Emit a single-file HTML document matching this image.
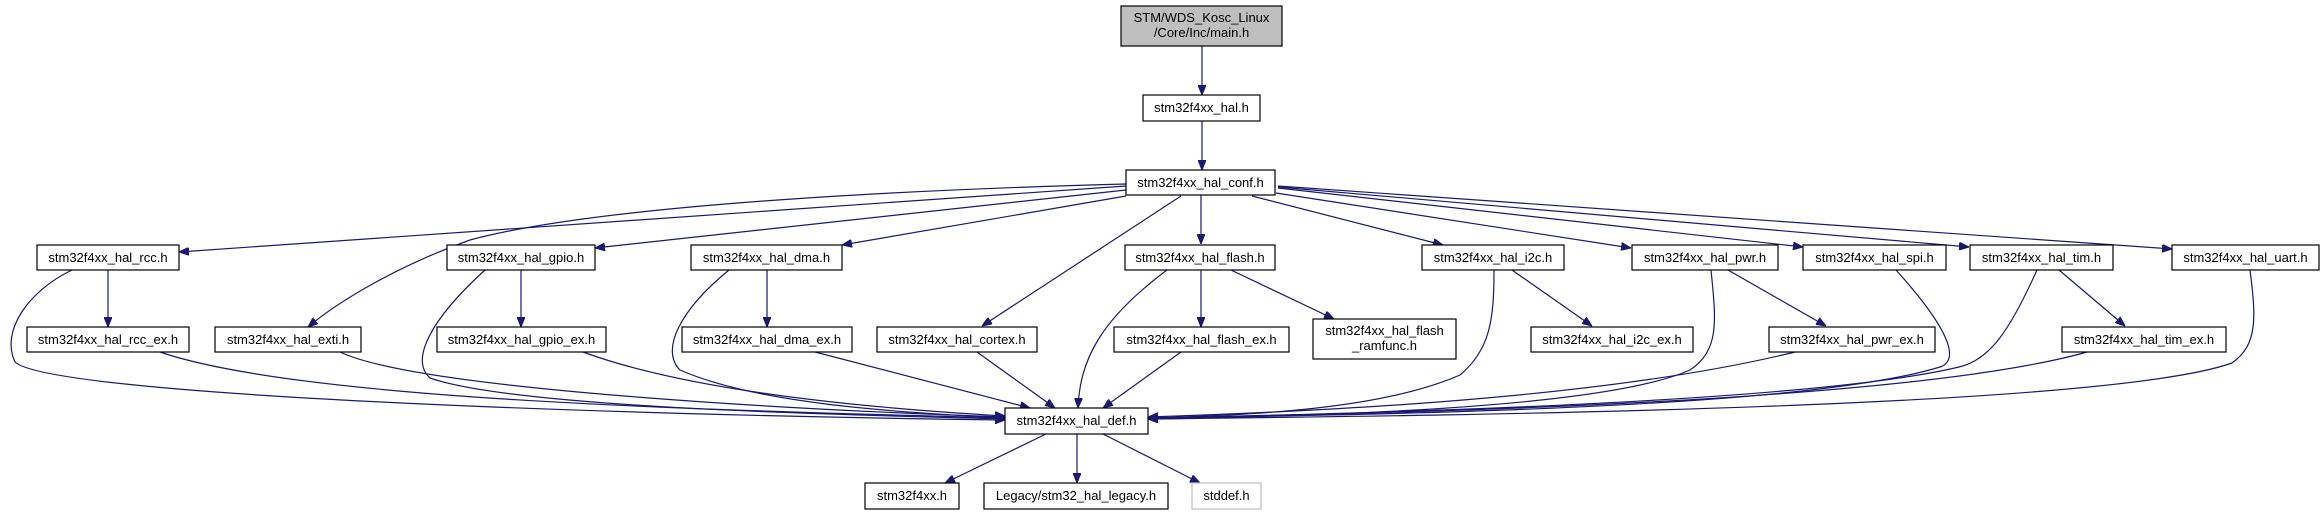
<!DOCTYPE html>
<html><head><meta charset="utf-8"><style>
html,body{margin:0;padding:0;background:#fff;}
svg{display:block;}
text{font-family:"Liberation Sans",sans-serif;font-size:13px;fill:#000;}
.n{fill:#fff;stroke:#000;stroke-width:1.2;}
.e{fill:none;stroke:#191970;stroke-width:1.2;}
</style></head><body>
<svg width="2324" height="515" viewBox="0 0 2324 515" xmlns="http://www.w3.org/2000/svg">
<defs>
<marker id="a" markerWidth="10" markerHeight="8" refX="10" refY="4" orient="auto" markerUnits="userSpaceOnUse">
<path d="M0,0 L10,4 L0,8 z" fill="#191970" stroke="#191970"/>
</marker>
</defs>
<g marker-end="url(#a)">
<path class="e" d="M1202,46 L1202,95"/>
<path class="e" d="M1202,121 L1202,170"/>
<path class="e" d="M1126,186 L179,252"/>
<path class="e" d="M1126,184 C900,190 600,205 470,240 C400,265 340,300 308,327"/>
<path class="e" d="M1126,190 L595,248"/>
<path class="e" d="M1126,196 L842,245"/>
<path class="e" d="M1181,196 L982,326"/>
<path class="e" d="M1201,195 L1201,244"/>
<path class="e" d="M1252,196 L1443,245"/>
<path class="e" d="M1276,193 L1631,248"/>
<path class="e" d="M1278,188 L1803,247"/>
<path class="e" d="M1278,187 L1969,247"/>
<path class="e" d="M1278,186 L2172,249"/>
<path class="e" d="M108,270 L108,327"/>
<path class="e" d="M521,270 L521,327"/>
<path class="e" d="M767,270 L767,327"/>
<path class="e" d="M1201,270 L1201,327"/>
<path class="e" d="M1231,270 L1334,319"/>
<path class="e" d="M1512,270 L1592,326"/>
<path class="e" d="M1728,270 L1826,326"/>
<path class="e" d="M2059,270 L2125,326"/>
<path class="e" d="M72,270 C30,290 0,330 15,362 C50,395 600,415 1005,420"/>
<path class="e" d="M160,352 C300,400 700,410 1005,418"/>
<path class="e" d="M340,352 C420,390 800,410 1005,417"/>
<path class="e" d="M485,270 C430,320 410,360 430,378 C520,410 900,416 1005,419"/>
<path class="e" d="M583,352 C700,395 900,410 1005,416"/>
<path class="e" d="M729,270 C680,310 660,350 680,370 C760,405 900,412 1005,418"/>
<path class="e" d="M815,352 L1030,408"/>
<path class="e" d="M977,352 L1055,408"/>
<path class="e" d="M1167,270 C1100,320 1080,360 1078,408"/>
<path class="e" d="M1181,352 L1103,408"/>
<path class="e" d="M1494,270 C1494,320 1490,350 1460,375 C1380,410 1250,415 1148,418"/>
<path class="e" d="M1711,270 C1716,320 1720,350 1690,370 C1600,410 1300,416 1148,419"/>
<path class="e" d="M1795,352 C1600,400 1300,412 1148,417"/>
<path class="e" d="M1896,270 C1950,330 1960,360 1940,367 C1800,410 1350,415 1148,418"/>
<path class="e" d="M2037,270 C2010,330 1990,360 1959,367 C1800,405 1300,415 1148,418"/>
<path class="e" d="M2087,352 C1900,405 1350,414 1148,418"/>
<path class="e" d="M2250,270 C2256,317 2258,345 2232,363 C2100,410 1400,416 1148,419"/>
<path class="e" d="M1046,434 L945,483"/>
<path class="e" d="M1077,434 L1077,483"/>
<path class="e" d="M1103,434 L1200,483"/>
</g>
<rect x="1121" y="6" width="161" height="40" style="fill:#bfbfbf;stroke:#000;stroke-width:1.2"/>
<text x="1201.5" y="22" text-anchor="middle">STM/WDS_Kosc_Linux</text>
<text x="1201.5" y="37" text-anchor="middle">/Core/Inc/main.h</text>
<rect class="n" x="1143" y="95" width="117" height="26"/><text x="1201.5" y="112" text-anchor="middle">stm32f4xx_hal.h</text>
<rect class="n" x="1126" y="170" width="149" height="25"/><text x="1200.5" y="187" text-anchor="middle">stm32f4xx_hal_conf.h</text>
<rect class="n" x="37" y="245" width="142" height="25"/><text x="108" y="262" text-anchor="middle">stm32f4xx_hal_rcc.h</text>
<rect class="n" x="447" y="245" width="148" height="25"/><text x="521" y="262" text-anchor="middle">stm32f4xx_hal_gpio.h</text>
<rect class="n" x="691" y="245" width="151" height="25"/><text x="766.5" y="262" text-anchor="middle">stm32f4xx_hal_dma.h</text>
<rect class="n" x="1125" y="245" width="150" height="25"/><text x="1200" y="262" text-anchor="middle">stm32f4xx_hal_flash.h</text>
<rect class="n" x="1422" y="245" width="142" height="25"/><text x="1493" y="262" text-anchor="middle">stm32f4xx_hal_i2c.h</text>
<rect class="n" x="1632" y="245" width="146" height="25"/><text x="1705" y="262" text-anchor="middle">stm32f4xx_hal_pwr.h</text>
<rect class="n" x="1803" y="245" width="143" height="25"/><text x="1874.5" y="262" text-anchor="middle">stm32f4xx_hal_spi.h</text>
<rect class="n" x="1970" y="245" width="143" height="25"/><text x="2041.5" y="262" text-anchor="middle">stm32f4xx_hal_tim.h</text>
<rect class="n" x="2172" y="245" width="147" height="25"/><text x="2245.5" y="262" text-anchor="middle">stm32f4xx_hal_uart.h</text>
<rect class="n" x="27" y="327" width="162" height="25"/><text x="108" y="344" text-anchor="middle">stm32f4xx_hal_rcc_ex.h</text>
<rect class="n" x="215" y="327" width="146" height="25"/><text x="288" y="344" text-anchor="middle">stm32f4xx_hal_exti.h</text>
<rect class="n" x="437" y="327" width="169" height="25"/><text x="521.5" y="344" text-anchor="middle">stm32f4xx_hal_gpio_ex.h</text>
<rect class="n" x="682" y="327" width="170" height="25"/><text x="767" y="344" text-anchor="middle">stm32f4xx_hal_dma_ex.h</text>
<rect class="n" x="877" y="327" width="160" height="25"/><text x="957" y="344" text-anchor="middle">stm32f4xx_hal_cortex.h</text>
<rect class="n" x="1114" y="327" width="175" height="25"/><text x="1201.5" y="344" text-anchor="middle">stm32f4xx_hal_flash_ex.h</text>
<rect class="n" x="1313" y="319" width="143" height="40"/>
<text x="1384.5" y="335" text-anchor="middle">stm32f4xx_hal_flash</text>
<text x="1384.5" y="350" text-anchor="middle">_ramfunc.h</text>
<rect class="n" x="1531" y="327" width="162" height="25"/><text x="1612" y="344" text-anchor="middle">stm32f4xx_hal_i2c_ex.h</text>
<rect class="n" x="1769" y="327" width="166" height="25"/><text x="1852" y="344" text-anchor="middle">stm32f4xx_hal_pwr_ex.h</text>
<rect class="n" x="2062" y="327" width="164" height="25"/><text x="2144" y="344" text-anchor="middle">stm32f4xx_hal_tim_ex.h</text>
<rect class="n" x="1005" y="408" width="143" height="26"/><text x="1076.5" y="425" text-anchor="middle">stm32f4xx_hal_def.h</text>
<rect class="n" x="865" y="483" width="94" height="26"/><text x="912" y="500" text-anchor="middle">stm32f4xx.h</text>
<rect class="n" x="984" y="483" width="184" height="26"/><text x="1076" y="500" text-anchor="middle">Legacy/stm32_hal_legacy.h</text>
<rect x="1192" y="483" width="69" height="26" style="fill:#fff;stroke:#bfbfbf;stroke-width:1.2"/><text x="1226.5" y="500" text-anchor="middle">stddef.h</text>
</svg>
</body></html>
